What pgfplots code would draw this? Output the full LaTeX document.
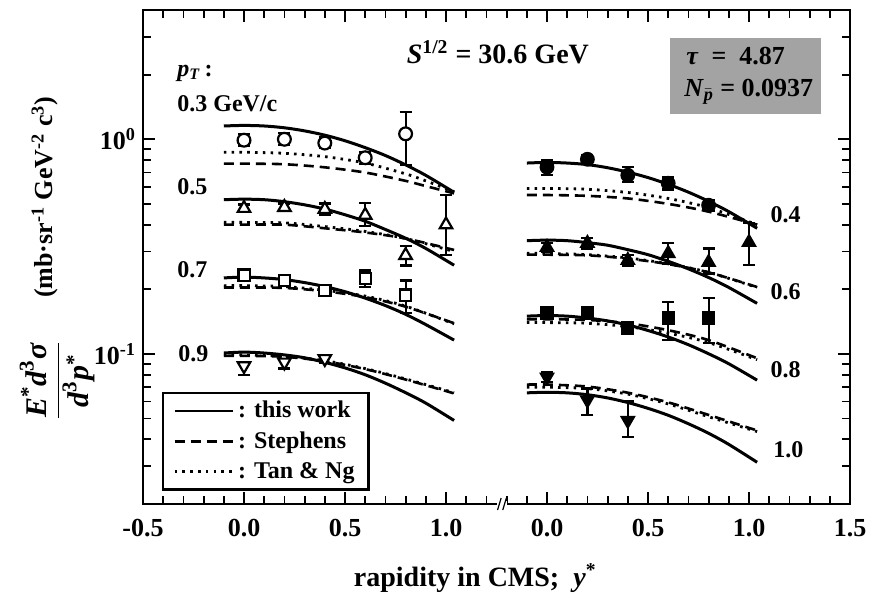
\documentclass[border=0pt]{standalone}
\usepackage{amsmath}
\usepackage{fontspec}
\setmainfont{Liberation Serif}
\usepackage{pgfplots}
\pgfplotsset{compat=1.18}
\usetikzlibrary{calc}
\definecolor{boxgray}{RGB}{163,163,163}

\pgfplotsset{
  sol/.style={black, line width=1.5pt, solid, no marks, smooth, forget plot},
  das/.style={black, line width=1.3pt, dash pattern=on 5pt off 3pt, no marks, smooth, forget plot},
  dot/.style={black, line width=1.4pt, dash pattern=on 1.3pt off 2.6pt, no marks, smooth, forget plot},
  pts/.style={only marks, forget plot, black,
    error bars/y dir=both, error bars/y explicit,
    error bars/error mark=-,
    error bars/error bar style={line width=1.1pt, black, solid},
    error bars/error mark options={rotate=90, line width=1.1pt, mark size=3pt, black, solid}},
  open/.style={mark options={draw=black, fill=white, line width=1.1pt, solid}},
  opendown/.style={mark options={draw=black, fill=white, line width=1.1pt, solid, rotate=180}},
  filled/.style={mark options={draw=black, fill=black, line width=1pt, solid}},
  filleddown/.style={mark options={draw=black, fill=black, line width=1pt, solid, rotate=180}},
}

\begin{document}
\begin{tikzpicture}
\path[use as bounding box] (0,0) rectangle (443pt,-300.5pt);
\begin{axis}[
  at={(71.5pt,-252pt)}, anchor=south west,
  scale only axis, width=353.5pt, height=247pt,
  ymode=log, xmin=-0.5, xmax=3.0, ymin=0.02, ymax=4,
  clip=false,
  axis line style={line width=1.2pt},
  every tick/.style={black, line width=0.9pt},
  major tick length=6pt, minor tick length=4pt,
  tick align=inside,
  xtick={-0.5,0,0.5,1,1.5,2,2.5,3},
  xticklabels={-0.5,0.0,0.5,1.0,0.0,0.5,1.0,1.5},
  minor x tick num=4,
  ytick={0.1,1},
  yticklabels={10\textsuperscript{-1},10\textsuperscript{0}},
  minor ytick={0.02,0.03,0.04,0.05,0.06,0.07,0.08,0.09,0.2,0.3,0.4,0.5,0.6,0.7,0.8,0.9,2,3},
  tick label style={font=\fontsize{13}{15}\selectfont\bfseries},
  xticklabel style={yshift=-4pt},
  xlabel={rapidity in CMS;\enspace\textit{y}\textsuperscript{*}},
  xlabel style={at={(axis description cs:0.47,-0.15)}, anchor=center, font=\fontsize{14}{16}\selectfont\bfseries},
  legend style={at={(0.027,0.227)}, anchor=north west, draw=black, line width=1.2pt,
    font=\fontsize{12}{13}\selectfont\bfseries, inner xsep=5pt, inner ysep=2pt, row sep=1.5pt},
  legend cell align=left,
  legend image code/.code={\draw[#1] (0pt,0pt) -- (29pt,0pt);},
]
% gray info box
\fill[boxgray] (rel axis cs:0.745,0.943) rectangle (rel axis cs:0.959,0.789);

% ---------- left panel curves (x = y*) ----------
% pT = 0.3
\addplot[sol] coordinates {(-0.1,1.153)(0,1.16)(0.1,1.153)(0.2,1.131)(0.3,1.094)(0.4,1.045)(0.5,0.984)(0.6,0.914)(0.7,0.84)(0.8,0.76)(0.9,0.679)(1.04,0.566)};
\addplot[das] coordinates {(-0.1,0.77)(0,0.77)(0.2,0.765)(0.4,0.74)(0.6,0.70)(0.8,0.64)(0.9,0.605)(1.04,0.56)};
\addplot[dot] coordinates {(-0.1,0.87)(0,0.87)(0.2,0.86)(0.4,0.83)(0.6,0.775)(0.8,0.69)(0.9,0.64)(1.04,0.57)};
% pT = 0.5
\addplot[sol] coordinates {(-0.1,0.523)(0,0.526)(0.1,0.523)(0.2,0.512)(0.3,0.495)(0.4,0.473)(0.5,0.445)(0.6,0.415)(0.7,0.38)(0.8,0.346)(0.9,0.31)(1.04,0.259)};
\addplot[das] coordinates {(-0.1,0.40)(0,0.40)(0.2,0.40)(0.4,0.385)(0.6,0.368)(0.8,0.345)(1.04,0.305)};
\addplot[dot] coordinates {(-0.1,0.41)(0,0.41)(0.2,0.408)(0.4,0.392)(0.6,0.372)(0.8,0.345)(1.04,0.30)};
% pT = 0.7
\addplot[sol] coordinates {(-0.1,0.226)(0,0.228)(0.1,0.226)(0.2,0.222)(0.3,0.215)(0.4,0.206)(0.5,0.195)(0.6,0.182)(0.7,0.168)(0.8,0.153)(0.9,0.137)(1.04,0.116)};
\addplot[das] coordinates {(-0.1,0.204)(0,0.204)(0.2,0.203)(0.4,0.196)(0.6,0.184)(0.8,0.166)(1.04,0.139)};
\addplot[dot] coordinates {(-0.1,0.208)(0,0.208)(0.2,0.206)(0.4,0.198)(0.6,0.186)(0.8,0.167)(1.04,0.138)};
% pT = 0.9
\addplot[sol] coordinates {(-0.1,0.101)(0,0.102)(0.1,0.101)(0.2,0.099)(0.3,0.096)(0.4,0.0914)(0.5,0.0861)(0.6,0.080)(0.7,0.0731)(0.8,0.066)(0.9,0.059)(1.04,0.049)};
\addplot[das] coordinates {(-0.1,0.098)(0,0.098)(0.2,0.097)(0.4,0.0925)(0.6,0.085)(0.8,0.076)(1.04,0.0655)};
\addplot[dot] coordinates {(-0.1,0.099)(0,0.099)(0.2,0.0975)(0.4,0.093)(0.6,0.0855)(0.8,0.0765)(1.04,0.066)};

% ---------- right panel curves (x = y* + 1.5) ----------
% pT = 0.4
\addplot[sol] coordinates {(1.4,0.775)(1.5,0.78)(1.6,0.775)(1.7,0.762)(1.8,0.737)(1.9,0.703)(2.0,0.663)(2.1,0.617)(2.2,0.567)(2.3,0.514)(2.4,0.46)(2.54,0.385)};
\addplot[das] coordinates {(1.4,0.55)(1.5,0.55)(1.7,0.545)(1.9,0.53)(2.1,0.50)(2.3,0.46)(2.54,0.40)};
\addplot[dot] coordinates {(1.4,0.59)(1.5,0.59)(1.7,0.585)(1.9,0.565)(2.1,0.53)(2.3,0.48)(2.54,0.40)};
% pT = 0.6
\addplot[sol] coordinates {(1.4,0.337)(1.5,0.339)(1.6,0.337)(1.7,0.33)(1.8,0.321)(1.9,0.306)(2.0,0.29)(2.1,0.27)(2.2,0.249)(2.3,0.227)(2.4,0.204)(2.54,0.172)};
\addplot[das] coordinates {(1.4,0.29)(1.5,0.29)(1.7,0.288)(1.9,0.278)(2.1,0.262)(2.3,0.24)(2.54,0.205)};
\addplot[dot] coordinates {(1.4,0.294)(1.5,0.294)(1.7,0.29)(1.9,0.28)(2.1,0.263)(2.3,0.24)(2.54,0.204)};
% pT = 0.8
\addplot[sol] coordinates {(1.4,0.150)(1.5,0.151)(1.6,0.150)(1.7,0.147)(1.8,0.1426)(1.9,0.1365)(2.0,0.1286)(2.1,0.12)(2.2,0.1104)(2.3,0.1002)(2.4,0.09)(2.54,0.0755)};
\addplot[das] coordinates {(1.4,0.145)(1.5,0.145)(1.7,0.144)(1.9,0.139)(2.1,0.129)(2.3,0.116)(2.54,0.0955)};
\addplot[dot] coordinates {(1.4,0.14)(1.5,0.14)(1.7,0.139)(1.9,0.134)(2.1,0.125)(2.3,0.113)(2.54,0.094)};
% pT = 1.0
\addplot[sol] coordinates {(1.4,0.0659)(1.5,0.0663)(1.6,0.0659)(1.7,0.0646)(1.8,0.0624)(1.9,0.0594)(2.0,0.0558)(2.1,0.0518)(2.2,0.0473)(2.3,0.0427)(2.4,0.0379)(2.54,0.0313)};
\addplot[das] coordinates {(1.4,0.072)(1.5,0.072)(1.7,0.0705)(1.9,0.066)(2.1,0.0595)(2.3,0.052)(2.54,0.044)};
\addplot[dot] coordinates {(1.4,0.07)(1.5,0.07)(1.7,0.069)(1.9,0.065)(2.1,0.0585)(2.3,0.051)(2.54,0.0435)};

% ---------- data points ----------
% left: open symbols
\addplot[pts, open, mark=*, mark size=3.2pt] table[x=x,y=y,y error plus=ep,y error minus=em] {
x y ep em
0 0.99 0.07 0.06
0.2 1.00 0.07 0.06
0.4 0.96 0.06 0.05
0.6 0.82 0.05 0.05
0.8 1.06 0.28 0.30
};
\addplot[pts, open, mark=triangle*, mark size=3.6pt] table[x=x,y=y,y error plus=ep,y error minus=em] {
x y ep em
0 0.477 0.02 0.02
0.2 0.482 0.02 0.02
0.4 0.472 0.03 0.03
0.6 0.443 0.06 0.05
0.8 0.288 0.03 0.03
1.0 0.40 0.15 0.112
};
\addplot[pts, open, mark=square*, mark size=2.8pt] table[x=x,y=y,y error plus=ep,y error minus=em] {
x y ep em
0 0.233 0.012 0.012
0.2 0.22 0.01 0.01
0.4 0.198 0.01 0.01
0.6 0.225 0.02 0.02
0.8 0.188 0.032 0.033
};
\addplot[pts, opendown, mark=triangle*, mark size=3.6pt] table[x=x,y=y,y error plus=ep,y error minus=em] {
x y ep em
0 0.088 0.003 0.008
0.2 0.0915 0.003 0.006
0.4 0.095 0.004 0.004
};
% right: filled symbols
\addplot[pts, filled, mark=*, mark size=3.2pt] table[x=x,y=y,y error plus=ep,y error minus=em] {
x y ep em
1.5 0.741 0.06 0.06
1.7 0.807 0.04 0.04
1.9 0.68 0.06 0.05
2.1 0.624 0.04 0.04
2.3 0.493 0.03 0.03
};
\addplot[pts, filled, mark=triangle*, mark size=3.6pt] table[x=x,y=y,y error plus=ep,y error minus=em] {
x y ep em
1.5 0.314 0.015 0.015
1.7 0.328 0.02 0.02
1.9 0.273 0.015 0.015
2.1 0.294 0.035 0.03
2.3 0.267 0.043 0.03
2.5 0.331 0.075 0.072
};
\addplot[pts, filled, mark=square*, mark size=2.8pt] table[x=x,y=y,y error plus=ep,y error minus=em] {
x y ep em
1.5 0.155 0.008 0.008
1.7 0.155 0.008 0.008
1.9 0.132 0.006 0.006
2.1 0.147 0.027 0.031
2.3 0.147 0.035 0.035
};
\addplot[pts, filleddown, mark=triangle*, mark size=3.6pt] table[x=x,y=y,y error plus=ep,y error minus=em] {
x y ep em
1.5 0.078 0.004 0.004
1.7 0.061 0.008 0.009
1.9 0.049 0.011 0.008
};

% legend
\addlegendimage{black, line width=1.3pt, solid}
\addlegendentry{: this work}
\addlegendimage{black, line width=1.3pt, dash pattern=on 5pt off 3pt}
\addlegendentry{: Stephens}
\addlegendimage{black, line width=1.4pt, dash pattern=on 1.3pt off 2.6pt}
\addlegendentry{: Tan \& Ng}

% annotations
\begin{scope}[every node/.style={font=\fontsize{12}{14}\selectfont\bfseries, inner sep=0pt}]
\node[anchor=west] at (rel axis cs:0.048,0.872) {\textit{p}\textsubscript{\textit{T}}\,:};
\node[anchor=west] at (rel axis cs:0.048,0.810) {0.3 GeV/c};
\node[anchor=west] at (rel axis cs:0.048,0.642) {0.5};
\node[anchor=west] at (rel axis cs:0.048,0.474) {0.7};
\node[anchor=west] at (rel axis cs:0.0495,0.304) {0.9};
\node[anchor=west] at (rel axis cs:0.887,0.585) {0.4};
\node[anchor=west] at (rel axis cs:0.887,0.429) {0.6};
\node[anchor=west] at (rel axis cs:0.887,0.271) {0.8};
\node[anchor=west] at (rel axis cs:0.891,0.109) {1.0};
\node[font=\fontsize{14}{16}\selectfont\bfseries] at (rel axis cs:0.502,0.915) {\textit{S}\textsuperscript{1/2} = 30.6 GeV};
\node[anchor=west, font=\fontsize{13}{15}\selectfont\bfseries] at (rel axis cs:0.768,0.907) {\textit{τ}\enspace=\enspace4.87};
\node[anchor=west, font=\fontsize{13}{15}\selectfont\bfseries] at (rel axis cs:0.765,0.834) {\textit{N}$_{\bar{\text{\itshape p}}}$ = 0.0937};
\node[rotate=90, font=\fontsize{15}{17}\selectfont\bfseries] at (rel axis cs:-0.121,0.25)
  {$\displaystyle\frac{\text{\itshape E}^{\text{*}}\text{\itshape d}^{\text{3}}\text{\itshape σ}}{\text{\itshape d}^{\text{3}}\text{\itshape p}^{\text{*}}}$};
\node[rotate=90, font=\fontsize{13}{15}\selectfont\bfseries] at (rel axis cs:-0.139,0.621)
  {(mb·sr\textsuperscript{-1} GeV\textsuperscript{-2} c\textsuperscript{3})};
\end{scope}
% axis break mark
\fill[white] ($(rel axis cs:0.508,0)+(-2.5pt,-1.5pt)$) rectangle ($(rel axis cs:0.508,0)+(2.5pt,1.5pt)$);
\draw[line width=0.6pt] ($(rel axis cs:0.508,0)+(-2.3pt,-3pt)$) -- ++(1.8pt,6pt);
\draw[line width=0.6pt] ($(rel axis cs:0.508,0)+(0.3pt,-3pt)$) -- ++(1.8pt,6pt);
\end{axis}
\end{tikzpicture}
\end{document}
